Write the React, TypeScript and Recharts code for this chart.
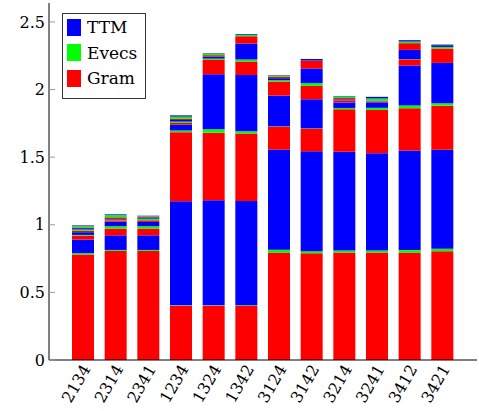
import React from 'react';
import { BarChart, Bar, XAxis, YAxis } from 'recharts';

const categories = ['2134', '2314', '2341', '1234', '1324', '1342', '3124', '3142', '3214', '3241', '3412', '3421'];

// each bar is stacked Gram / Evecs / TTM for mode 1..4
const gram1 = [0.78, 0.807, 0.807, 0.402, 0.402, 0.402, 0.795, 0.79, 0.795, 0.795, 0.795, 0.805];
const evecs1 = [0.01, 0.007, 0.007, 0.002, 0.002, 0.002, 0.02, 0.015, 0.015, 0.015, 0.018, 0.017];
const ttm1 = [0.1, 0.108, 0.108, 0.77, 0.778, 0.771, 0.741, 0.738, 0.73, 0.719, 0.736, 0.733];
const gram2 = [0.03, 0.05, 0.05, 0.511, 0.499, 0.5, 0.17, 0.168, 0.314, 0.321, 0.313, 0.326];
const evecs2 = [0.005, 0.017, 0.017, 0.012, 0.025, 0.017, 0.002, 0.002, 0.01, 0.015, 0.02, 0.017];
const ttm2 = [0.02, 0.034, 0.032, 0.044, 0.407, 0.415, 0.227, 0.215, 0.04, 0.04, 0.296, 0.299];
const gram3 = [0.01, 0.01, 0.012, 0.012, 0.106, 0.1, 0.104, 0.099, 0.012, 0.007, 0.044, 0.106];
const evecs3 = [0.01, 0.005, 0.012, 0.01, 0.01, 0.015, 0.01, 0.02, 0.003, 0.002, 0.002, 0.012];
const ttm3 = [0.01, 0.005, 0.008, 0.012, 0.015, 0.118, 0.015, 0.109, 0.008, 0.003, 0.069, 0.013];
const gram4 = [0.005, 0.012, 0.005, 0.008, 0.01, 0.054, 0.01, 0.056, 0.01, 0.002, 0.05, 0.002];
const evecs4 = [0.01, 0.017, 0.005, 0.017, 0.012, 0.01, 0.01, 0.002, 0.012, 0.015, 0.012, 0.002];
const ttm4 = [0.005, 0.005, 0.004, 0.009, 0.003, 0.005, 0.003, 0.012, 0.003, 0.012, 0.01, 0.002];

const yTicks = [0, 0.5, 1, 1.5, 2, 2.5];

const TTM = '#0000ff';
const EVECS = '#00ff00';
const GRAM = '#ff0000';
const FONT = '"DejaVu Serif", serif';

const data = categories.map((name, i) => ({
  name,
  gram1: gram1[i], evecs1: evecs1[i], ttm1: ttm1[i],
  gram2: gram2[i], evecs2: evecs2[i], ttm2: ttm2[i],
  gram3: gram3[i], evecs3: evecs3[i], ttm3: ttm3[i],
  gram4: gram4[i], evecs4: evecs4[i], ttm4: ttm4[i],
}));

const stackKeys = [
  ['gram1', GRAM], ['evecs1', EVECS], ['ttm1', TTM],
  ['gram2', GRAM], ['evecs2', EVECS], ['ttm2', TTM],
  ['gram3', GRAM], ['evecs3', EVECS], ['ttm3', TTM],
  ['gram4', GRAM], ['evecs4', EVECS], ['ttm4', TTM],
];

const legendItems = [
  { label: 'TTM', color: TTM },
  { label: 'Evecs', color: EVECS },
  { label: 'Gram', color: GRAM },
];

const XTick = (props: any) => {
  const { x, payload } = props;
  const tx = x + 3;
  const ty = 366;
  return (
    <text
      x={tx}
      y={ty}
      dy="0.35em"
      textAnchor="end"
      transform={`rotate(-60, ${tx}, ${ty})`}
      fontFamily={FONT}
      fontSize={16}
      fill="#000"
    >
      {payload.value}
    </text>
  );
};

const Empty = () => <g />;

const App: React.FC = () => (
  <div style={{ position: 'absolute', left: 0, top: 0, width: 479, height: 411, fontFamily: FONT }}>
    <BarChart
      width={479}
      height={411}
      data={data}
      barSize={22}
      margin={{ top: 3, right: 2, left: 0, bottom: 0 }}
    >
      <XAxis
        dataKey="name"
        height={51}
        padding={{ left: 18, right: 18 }}
        axisLine={{ stroke: '#000' }}
        tickLine={false}
        interval={0}
        tick={<XTick />}
      />
      <XAxis
        xAxisId="top"
        dataKey="name"
        orientation="top"
        height={0}
        padding={{ left: 18, right: 18 }}
        axisLine={{ stroke: '#000' }}
        tickLine={{ stroke: '#999' }}
        tickSize={-5}
        interval={0}
        tick={<Empty />}
      />
      <YAxis
        width={49}
        domain={[0, 2.64]}
        ticks={yTicks}
        allowDataOverflow
        axisLine={{ stroke: '#000' }}
        tickLine={{ stroke: '#999' }}
        tickSize={-6}
        tickMargin={10}
        tick={{ fontFamily: FONT, fontSize: 16, fill: '#000' }}
      />
      <YAxis
        yAxisId="r"
        orientation="right"
        width={0}
        domain={[0, 2.64]}
        ticks={yTicks}
        allowDataOverflow
        axisLine={{ stroke: '#000' }}
        tickLine={{ stroke: '#999' }}
        tickSize={-6}
        tick={<Empty />}
      />
      {stackKeys.map(([key, color]) => (
        <Bar key={key} dataKey={key} stackId="a" fill={color} isAnimationActive={false} />
      ))}
    </BarChart>
    <div
      style={{
        position: 'absolute',
        left: 62,
        top: 13,
        width: 84,
        height: 86,
        border: '1px solid #333',
        background: '#fff',
        fontSize: 17,
        color: '#000',
        boxSizing: 'border-box',
      }}
    >
      {legendItems.map((item, i) => (
        <div
          key={item.label}
          style={{ position: 'absolute', left: 4, top: 4 + i * 25.5, height: 18, display: 'flex', alignItems: 'center' }}
        >
          <span style={{ display: 'inline-block', width: 14, height: 17, background: item.color }} />
          <span style={{ marginLeft: 6, lineHeight: '18px' }}>{item.label}</span>
        </div>
      ))}
    </div>
  </div>
);

export default App;
